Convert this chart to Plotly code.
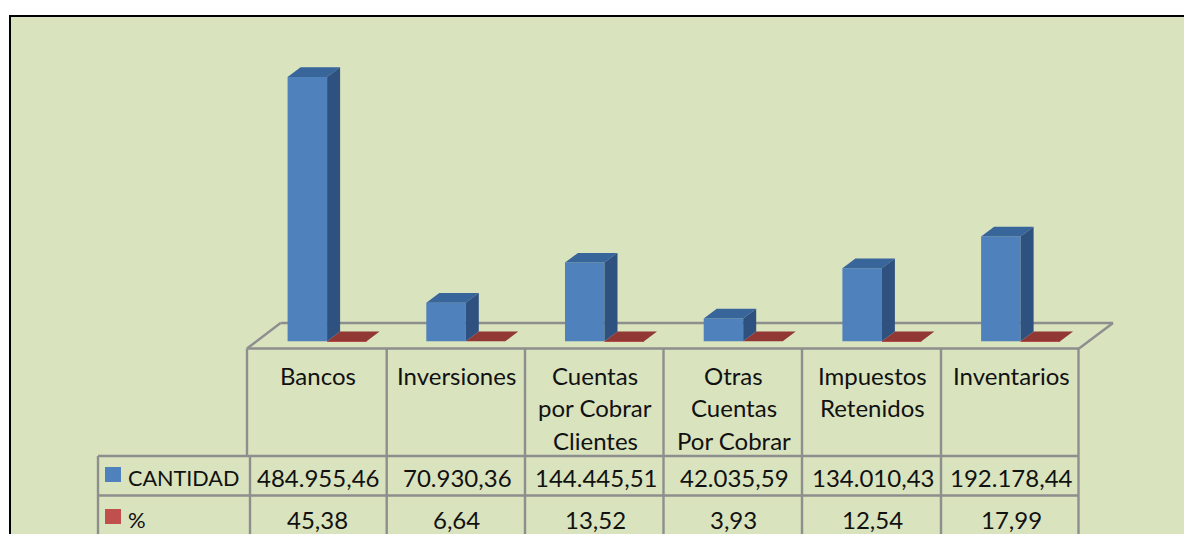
import plotly.graph_objects as go

# ---- data ----
category_lines = [["Bancos"], ["Inversiones"], ["Cuentas", "por Cobrar", "Clientes"],
                  ["Otras", "Cuentas", "Por Cobrar"], ["Impuestos", "Retenidos"], ["Inventarios"]]
cantidad = [484955.46, 70930.36, 144445.51, 42035.59, 134010.43, 192178.44]
porcentaje = [45.38, 6.64, 13.52, 3.93, 12.54, 17.99]
series_names = ["CANTIDAD", "%"]

# ---- style / layout ----
W, H = 1184, 534
BG = "#d9e3bd"
GRID = "#8e8e8e"
BLUE, BLUE_SIDE, BLUE_TOP = "#4f81bd", "#2f5180", "#38659a"
RED, RED_TOP = "#c0504d", "#913734"
FONT = "Lato"
FS = 24
STEP = 138.7          # px per category
X0 = 327.1            # px of category 0
Y0 = 341.3            # px of value 0
PER_PX = 1835.0       # value per px
BAR_W = 39.5 / STEP
DX = 13 / STEP
DY = 9.7 * PER_PX

n = len(cantidad)
idx = list(range(n))

def fmt(v):
    return f"{v:,.2f}".replace(",", "X").replace(".", ",").replace("X", ".")

def px_x(p):
    return p / W

def px_y(p):
    return 1 - p / H

def faces(values, left, right):
    """Polygons for the depth faces, derived from the values."""
    sx, sy, tx, ty = [], [], [], []
    for i, v in enumerate(values):
        a, b = i + left, i + right
        sx += [b, b + DX, b + DX, b, b, None]
        sy += [0, DY, v + DY, v, 0, None]
        tx += [a, b, b + DX, a + DX, a, None]
        ty += [v, v, v + DY, v + DY, v, None]
    return sx, sy, tx, ty

fig = go.Figure()
fig.add_trace(go.Bar(x=idx, y=cantidad, name=series_names[0], marker=dict(color=BLUE, line_width=0)))
fig.add_trace(go.Bar(x=idx, y=porcentaje, name=series_names[1], marker=dict(color=RED, line_width=0)))

for values, left, right, side_c, top_c, nm in [
    (porcentaje, 0, BAR_W, RED_TOP, RED_TOP, series_names[1]),
    (cantidad, -BAR_W, 0, BLUE_SIDE, BLUE_TOP, series_names[0]),
]:
    sx, sy, tx, ty = faces(values, left, right)
    fig.add_trace(go.Scatter(x=tx, y=ty, mode="lines", fill="toself", fillcolor=top_c,
                             line=dict(width=0), name=nm, hoverinfo="skip"))
    fig.add_trace(go.Scatter(x=sx, y=sy, mode="lines", fill="toself", fillcolor=side_c,
                             line=dict(width=0), name=nm, hoverinfo="skip"))

shapes = []

def line(x1, y1, x2, y2, w=2.4):
    shapes.append(dict(type="line", xref="paper", yref="paper", layer="below",
                       x0=px_x(x1), y0=px_y(y1), x1=px_x(x2), y1=px_y(y2),
                       line=dict(color=GRID, width=w)))

# panel
shapes.append(dict(type="rect", xref="paper", yref="paper", layer="below",
                   x0=px_x(10), y0=px_y(H + 20), x1=px_x(W + 20), y1=px_y(16),
                   fillcolor=BG, line=dict(color="#000000", width=2)))
# floor
line(247, 348.5, 280.5, 323)
line(280.5, 323, 1113, 323)
line(1113, 323, 1079, 348.5)
# table
col_x = [247, 386.7, 525, 663.5, 802, 941, 1078.5]
line(247, 348.5, 1079, 348.5)
line(98, 456, 1079, 456)
line(98, 495.5, 1079, 495.5)
line(98, 456, 98, H)
line(247, 348.5, 247, 456)
line(250, 456, 250, H)
for x in col_x[1:]:
    line(x, 348.5, x, H)
# legend keys
for y0, c in [(467, BLUE), (509, RED)]:
    shapes.append(dict(type="rect", xref="paper", yref="paper", layer="below",
                       x0=px_x(105), x1=px_x(121), y0=px_y(y0 + 15), y1=px_y(y0),
                       fillcolor=c, line_width=0))

ann = []

def text(xval, xref, py, s, anchor="center", size=FS):
    ann.append(dict(x=xval, y=px_y(py), xref=xref, yref="paper", text=s, showarrow=False,
                    xanchor=anchor, yanchor="middle", font=dict(family=FONT, size=size, color="#111111")))

CENTER_SHIFT = -9.4 / STEP
for i, lines in enumerate(category_lines):
    for j, s in enumerate(lines):
        text(i + CENTER_SHIFT, "x", 375.3 + 32.5 * j, s)
    text(i + CENTER_SHIFT + 0.6 / STEP, "x", 477.5, fmt(cantidad[i]))
    text(i + CENTER_SHIFT, "x", 519, fmt(porcentaje[i]))
text(px_x(125.5), "paper", 477.5, series_names[0], "left", 21.6)
text(px_x(125.5), "paper", 519, series_names[1], "left", 22)

fig.update_layout(
    width=W, height=H, margin=dict(l=0, r=0, t=0, b=0),
    paper_bgcolor="#ffffff", plot_bgcolor="rgba(0,0,0,0)",
    barmode="group", bargap=1 - 79 / STEP, bargroupgap=0, showlegend=False,
    xaxis=dict(range=[(0 - X0) / STEP, (W - X0) / STEP], visible=False, fixedrange=True),
    yaxis=dict(range=[-(H - Y0) * PER_PX, Y0 * PER_PX], visible=False, fixedrange=True),
    shapes=shapes, annotations=ann,
)
fig.write_html("out.html", config=dict(displayModeBar=False),
               post_script="document.body.style.margin='0';document.documentElement.style.overflow='hidden';")
